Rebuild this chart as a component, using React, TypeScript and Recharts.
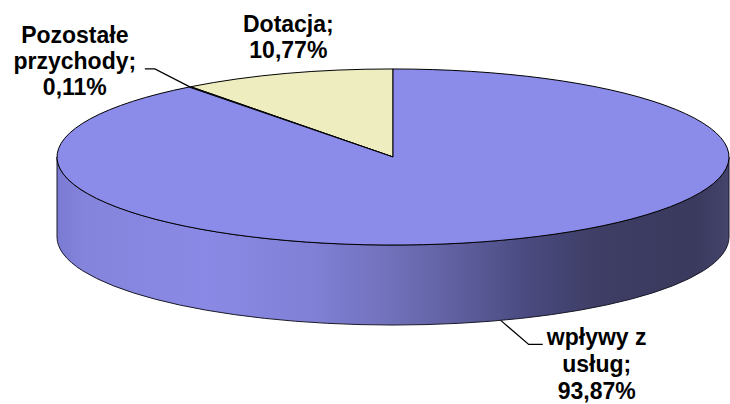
import { PieChart, Pie, Cell } from 'recharts'

// data
const categories = ['Dotacja', 'Pozostałe przychody', 'wpływy z usług']
const shares = [10.77, 0.11, 93.87]
const labelLines = [['Dotacja;'], ['Pozostałe', 'przychody;'], ['wpływy z', 'usług;']]
const colors = ['#EDEDC0', '#8B8BEA', '#8B8BEA']

const data = categories.map((name, i) => ({ name, value: shares[i] }))

const TILT = 0.262
const DEPTH = 80
const RAD = Math.PI / 180
const FONT = '"Liberation Sans", Arial, sans-serif'

const fmt = (v: number) => v.toFixed(2).replace('.', ',') + '%'

const Slice3D = (props: any) => {
  const { cx, cy, outerRadius, startAngle, endAngle, fill } = props
  const rx = outerRadius
  const ry = outerRadius * TILT
  const s = Math.min(startAngle, endAngle)
  const e = Math.max(startAngle, endAngle)
  const pt = (a: number, dy = 0) => `${cx + rx * Math.cos(a * RAD)},${cy - ry * Math.sin(a * RAD) + dy}`

  // front wall: parts of the slice that lie in the lower half of the ellipse
  const sides: string[] = []
  for (const k of [-360, 0, 360]) {
    const a1 = Math.max(s, 180 + k)
    const a2 = Math.min(e, 360 + k)
    if (a2 > a1) {
      sides.push(
        `M${pt(a1)} A${rx},${ry} 0 0 0 ${pt(a2)} L${pt(a2, DEPTH)} A${rx},${ry} 0 0 1 ${pt(a1, DEPTH)} Z`
      )
    }
  }
  const large = e - s > 180 ? 1 : 0
  const top = `M${cx},${cy} L${pt(s)} A${rx},${ry} 0 ${large} 0 ${pt(e)} Z`

  return (
    <g>
      {sides.map((d, i) => (
        <path key={i} d={d} fill="url(#sideGrad)" stroke="#1a1a2a" strokeWidth={1} />
      ))}
      <path d={top} fill={fill} stroke="#000" strokeWidth={1} strokeLinejoin="round" />
    </g>
  )
}

const renderLabel = (props: any) => {
  const { cx, cy, midAngle, outerRadius, index, value } = props
  const rx = outerRadius
  const ry = outerRadius * TILT
  const ax = cx + rx * Math.cos(midAngle * RAD)
  const ay = cy - ry * Math.sin(midAngle * RAD)
  const lines = [...labelLines[index], fmt(value)]
  const txt = (x: number, y0: number, gap: number) => (
    <text textAnchor="middle" fontFamily={FONT} fontWeight="bold" fontSize={23} fill="#000">
      {lines.map((l, i) => (
        <tspan key={i} x={x} y={y0 + i * gap}>{l}</tspan>
      ))}
    </text>
  )
  if (index === 0) {
    return <g>{txt(ax + 2, ay - 42, 26)}</g>
  }
  if (index === 1) {
    return (
      <g>
        <polyline points={`${ax},${ay} ${ax - 35},${ay - 18} ${ax - 45},${ay - 18}`} fill="none" stroke="#000" strokeWidth={1.2} />
        {txt(ax - 115, ay - 44, 26)}
      </g>
    )
  }
  const by = ay + DEPTH
  return (
    <g>
      <polyline points={`${ax},${by} ${ax + 28},${by + 24} ${ax + 42},${by + 24}`} fill="none" stroke="#000" strokeWidth={1.2} />
      {txt(ax + 96, by + 25, 27)}
    </g>
  )
}

export default function App() {
  return (
    <div style={{ position: 'absolute', left: 0, top: 0, background: '#fff' }}>
      <PieChart width={730} height={404} margin={{ top: 0, right: 0, bottom: 0, left: 0 }}>
        <defs>
          <linearGradient id="sideGrad" gradientUnits="userSpaceOnUse" x1={57} y1={0} x2={729} y2={0}>
            <stop offset="0" stopColor="#7a7ad2" />
            <stop offset="0.04" stopColor="#8484dc" />
            <stop offset="0.22" stopColor="#8a8ae6" />
            <stop offset="0.38" stopColor="#8080d6" />
            <stop offset="0.5" stopColor="#7070ba" />
            <stop offset="0.6" stopColor="#5e5e9e" />
            <stop offset="0.7" stopColor="#4a4a80" />
            <stop offset="0.8" stopColor="#3e3e66" />
            <stop offset="0.95" stopColor="#3a3a5e" />
            <stop offset="1" stopColor="#44446c" />
          </linearGradient>
        </defs>
        <Pie
          data={data}
          dataKey="value"
          nameKey="name"
          cx={393}
          cy={157}
          outerRadius={336}
          startAngle={90}
          endAngle={450}
          shape={Slice3D}
          activeShape={Slice3D}
          inactiveShape={Slice3D}
          label={renderLabel}
          labelLine={false}
          isAnimationActive={false}
        >
          {data.map((d, i) => (
            <Cell key={d.name} fill={colors[i]} />
          ))}
        </Pie>
      </PieChart>
    </div>
  )
}
